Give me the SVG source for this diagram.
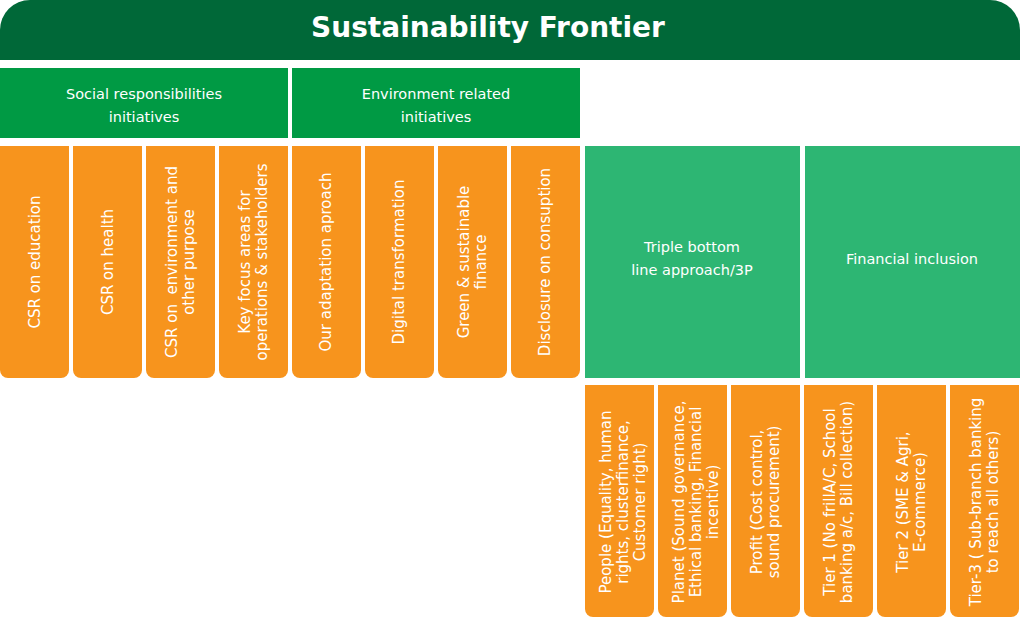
<svg xmlns="http://www.w3.org/2000/svg" width="1020" height="619" viewBox="0 0 1020 619">
<style>
text{font-family:"DejaVu Sans",Verdana,sans-serif;fill:#fff;text-anchor:middle}
.o{fill:#f7941d}
.h{fill:#009a44}
.g{fill:#2db673}
.t{font-size:14.5px}
.v{font-size:15px}
</style>
<rect width="1020" height="619" fill="#fff"/>
<g id="title"><path d="M30 0H990A30 30 0 0 1 1020 30V60H0V30A30 30 0 0 1 30 0Z" fill="#006838"/><text x="488" y="37" font-size="28" font-weight="bold">Sustainability Frontier</text></g>
<g id="social"><rect class="h" x="0" y="68" width="288" height="70"/><text class="t" x="144" y="99">Social responsibilities</text><text class="t" x="144" y="122">initiatives</text></g>
<g id="env"><rect class="h" x="292" y="68" width="288" height="70"/><text class="t" x="436" y="99">Environment related</text><text class="t" x="436" y="122">initiatives</text></g>
<g id="tbl"><rect class="g" x="585" y="146" width="215" height="232"/><text class="t" x="692" y="252">Triple bottom</text><text class="t" x="692" y="275">line approach/3P</text></g>
<g id="fi"><rect class="g" x="805" y="146" width="215" height="232"/><text class="t" x="912" y="264">Financial inclusion</text></g>
<defs><path id="col" d="M0 0H69V224A8 8 0 0 1 61 232H8A8 8 0 0 1 0 224Z"/></defs>
<g id="c1"><use href="#col" x="0" y="146" class="o"/><text class="v" transform="translate(40 262) rotate(-90)">CSR on education</text></g>
<g id="c2"><use href="#col" x="73" y="146" class="o"/><text class="v" transform="translate(113 262) rotate(-90)">CSR on health</text></g>
<g id="c3"><use href="#col" x="146" y="146" class="o"/><text class="v" transform="translate(177 262) rotate(-90)" xml:space="preserve">CSR on  environment and</text><text class="v" transform="translate(194 262) rotate(-90)">other purpose</text></g>
<g id="c4"><use href="#col" x="219" y="146" class="o"/><text class="v" transform="translate(250 262) rotate(-90)">Key focus areas for</text><text class="v" transform="translate(267 262) rotate(-90)">operations &amp; stakeholders</text></g>
<g id="c5"><use href="#col" x="292" y="146" class="o"/><text class="v" transform="translate(331 262) rotate(-90)">Our adaptation aproach</text></g>
<g id="c6"><use href="#col" x="365" y="146" class="o"/><text class="v" transform="translate(404 262) rotate(-90)">Digital transformation</text></g>
<g id="c7"><use href="#col" x="438" y="146" class="o"/><text class="v" transform="translate(469 262) rotate(-90)">Green &amp; sustainable</text><text class="v" transform="translate(486 262) rotate(-90)">finance</text></g>
<g id="c8"><use href="#col" x="511" y="146" class="o"/><text class="v" transform="translate(550 262) rotate(-90)">Disclosure on consuption</text></g>
<g id="b1"><use href="#col" x="585" y="385" class="o"/><text class="v" transform="translate(611 502) rotate(-90)">People (Equality, human</text><text class="v" transform="translate(628 502) rotate(-90)">rights, clusterfinance,</text><text class="v" transform="translate(645 502) rotate(-90)">Customer right)</text></g>
<g id="b2"><use href="#col" x="658" y="385" class="o"/><text class="v" transform="translate(684 502) rotate(-90)">Planet (Sound governance,</text><text class="v" transform="translate(701 502) rotate(-90)">Ethical banking, Financial</text><text class="v" transform="translate(718 502) rotate(-90)">incentive)</text></g>
<g id="b3"><use href="#col" x="731" y="385" class="o"/><text class="v" transform="translate(762 502) rotate(-90)">Profit (Cost control,</text><text class="v" transform="translate(779 502) rotate(-90)">sound procurement)</text></g>
<g id="b4"><use href="#col" x="804" y="385" class="o"/><text class="v" transform="translate(835 502) rotate(-90)">Tier 1 (No frillA/C, School</text><text class="v" transform="translate(852 502) rotate(-90)">banking a/c, Bill collection)</text></g>
<g id="b5"><use href="#col" x="877" y="385" class="o"/><text class="v" transform="translate(908 502) rotate(-90)">Tier 2 (SME &amp; Agri,</text><text class="v" transform="translate(925 502) rotate(-90)">E-commerce)</text></g>
<g id="b6"><use href="#col" x="950" y="385" class="o"/><text class="v" transform="translate(981 502) rotate(-90)">Tier-3 ( Sub-branch banking</text><text class="v" transform="translate(998 502) rotate(-90)">to reach all others)</text></g>
<g id="connectors"/>
</svg>
